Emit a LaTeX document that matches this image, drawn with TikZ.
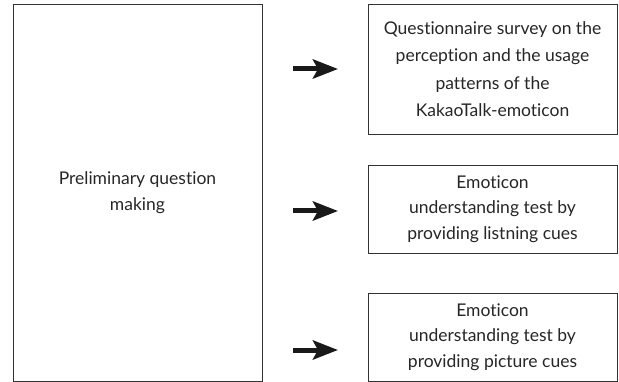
\documentclass[tikz,border=0pt]{standalone}
\usepackage{fontspec}
\setmainfont[Ligatures=NoCommon]{Lato}
\usetikzlibrary{arrows.meta}

\begin{document}
\begin{tikzpicture}[x=1pt,y=-1pt,
    stepbox/.style={draw=black!80, line width=0.8pt, text=black!85, align=center,
        minimum width=249pt, inner sep=0pt, font=\fontsize{17.5}{25.5}\selectfont},
    bigarrow/.style={-{Stealth[length=25pt,width=19pt,inset=5pt]}, line width=5pt, black!90}]
    \useasboundingbox (0,0) rectangle (619,382);
    \node[stepbox, minimum height=377pt] (prelim) at (137.5,192.5) {Preliminary question\\making};
    \node[stepbox, minimum height=130pt, font=\fontsize{17.5}{27.5}\selectfont] (survey) at (492.5,69) {Questionnaire survey on the\\perception and the usage\\patterns of the\\KakaoTalk-emoticon};
    \node[stepbox, minimum height=88pt] (listen) at (492.5,209) {Emoticon\\understanding test by\\providing listning cues};
    \node[stepbox, minimum height=88pt] (picture) at (492.5,337) {Emoticon\\understanding test by\\providing picture cues};
    \coordinate (a1s) at (293,69);  \coordinate (a1e) at (338,69);
    \coordinate (a2s) at (293,211); \coordinate (a2e) at (338,211);
    \coordinate (a3s) at (293,350); \coordinate (a3e) at (338,350);
    \draw[bigarrow] (a1s) -- (a1e);
    \draw[bigarrow] (a2s) -- (a2e);
    \draw[bigarrow] (a3s) -- (a3e);
\end{tikzpicture}
\end{document}
